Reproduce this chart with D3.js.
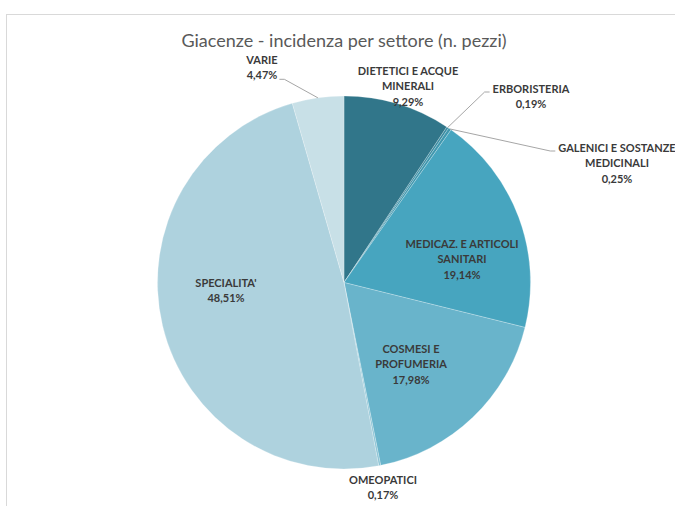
<!DOCTYPE html>
<html>
    <head>
        <meta charset="UTF-8" />
        <script src="https://cdn.jsdelivr.net/npm/d3@7"></script>
        <title>Giacenze - incidenza per settore</title>
        <style>
            body {
                margin: 0;
                background: white;
            }
            #chart text {
                font-family: Lato, "Open Sans", sans-serif;
            }
        </style>
    </head>
    <body>
        <div id="chart"></div>
        <script>
// data (clockwise from 12 o'clock)
const categories = ["DIETETICI E ACQUE MINERALI", "ERBORISTERIA", "GALENICI E SOSTANZE MEDICINALI",
    "MEDICAZ. E ARTICOLI SANITARI", "COSMESI E PROFUMERIA", "OMEOPATICI", "SPECIALITA'", "VARIE"];
const shares = [9.29, 0.19, 0.25, 19.14, 17.98, 0.17, 48.51, 4.47];
const labelLines = [["DIETETICI E ACQUE", "MINERALI"], ["ERBORISTERIA"], ["GALENICI E SOSTANZE", "MEDICINALI"],
    ["MEDICAZ. E ARTICOLI", "SANITARI"], ["COSMESI E", "PROFUMERIA"], ["OMEOPATICI"], ["SPECIALITA'"], ["VARIE"]];
const colors = ["#31768a", "#3a8ba1", "#3f97ae", "#47a5bf", "#69b4cb", "#8cc4d5", "#aed2de", "#c8e0e7"];

// label layout: centre x, first baseline, leader side (none / from left edge / from right edge)
const labelPos = [[408, 75, null], [531, 93, "left"], [617, 152, "left"], [462, 248, null],
    [411, 353, null], [383, 484, null], [226, 287, null], [262, 64, "right"]];

const w = 675, h = 506;
const cx = 344, cy = 282.5, r = 186.5;
const lineGap = 15.3;

const svg = d3.select("#chart").append("svg")
    .attr("width", w)
    .attr("height", h);

// chart frame
svg.append("rect")
    .attr("x", 6.5).attr("y", 14.5)
    .attr("width", 720).attr("height", 600)
    .attr("fill", "white")
    .attr("stroke", "#d9d9d9");

svg.append("text")
    .attr("x", 344).attr("y", 46.5)
    .attr("text-anchor", "middle")
    .attr("font-size", "18px")
    .attr("fill", "#595959")
    .text("Giacenze - incidenza per settore (n. pezzi)");

const pie = d3.pie().sort(null).value(d => d);
const arcs = pie(shares);
const arc = d3.arc().innerRadius(0).outerRadius(r);
const rim = d3.arc().innerRadius(r).outerRadius(r);

const g = svg.append("g").attr("transform", "translate(" + cx + "," + cy + ")");
g.selectAll("path").data(arcs).enter()
    .append("path")
    .attr("d", arc)
    .attr("fill", (d, i) => colors[i])
    .attr("stroke", "white")
    .attr("stroke-opacity", 0.6)
    .attr("stroke-width", 0.4);

const pct = v => d3.format(".2f")(v).replace(".", ",") + "%";

arcs.forEach((d, i) => {
    const p = labelPos[i];
    const lines = labelLines[i].concat([pct(shares[i])]);
    const t = svg.append("text")
        .attr("text-anchor", "middle")
        .attr("font-size", "11px")
        .attr("font-weight", "bold")
        .attr("fill", "#3a3a3a");
    lines.forEach((s, k) => {
        t.append("tspan").attr("x", p[0]).attr("y", p[1] + k * lineGap).text(s);
    });
    if (p[2]) {
        const spans = t.selectAll("tspan").nodes();
        const start = rim.centroid(d);
        let x0, x1, y;
        if (p[2] == "left") {
            const bb = spans[0].getBBox();
            y = p[1] - 1;
            x1 = bb.x - 3; x0 = x1 - 5;
        } else {
            const bb = spans[spans.length - 1].getBBox();
            y = p[1] + (spans.length - 1) * lineGap;
            x1 = bb.x + bb.width + 2; x0 = x1 + 5;
        }
        svg.append("polyline")
            .attr("points", [[cx + start[0], cy + start[1]], [x0, y], [x1, y]].map(q => q.join(",")).join(" "))
            .attr("fill", "none")
            .attr("stroke", "#a6a6a6")
            .attr("stroke-width", 1);
    }
});
        </script>
    </body>
</html>
